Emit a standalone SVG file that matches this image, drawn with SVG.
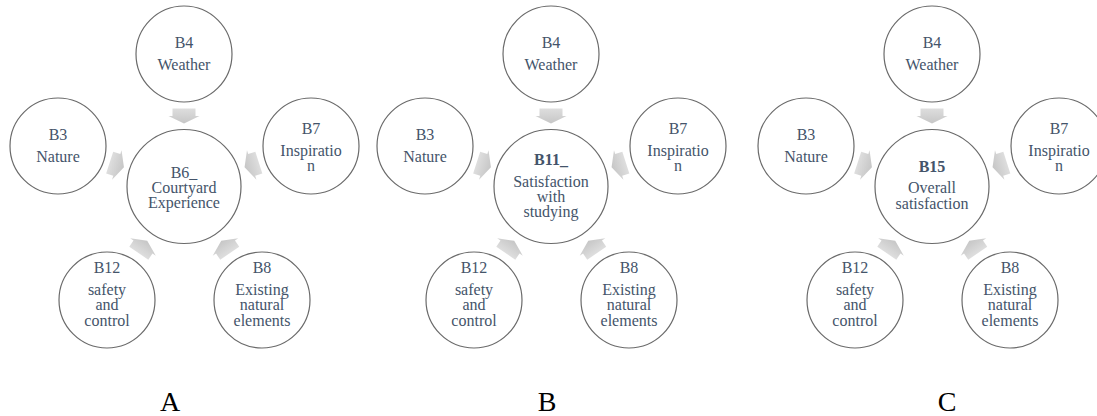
<svg xmlns="http://www.w3.org/2000/svg" width="1097" height="416" viewBox="0 0 1097 416">
<style>
.c{fill:#fff;stroke:#6a6a6a;stroke-width:1.2}
.t{font-family:'Liberation Serif','DejaVu Serif',serif;font-size:16px;fill:#44546A;text-anchor:middle}
.b{font-weight:bold}
.lbl{font-family:'Liberation Serif','DejaVu Serif',serif;font-size:28px;fill:#000;text-anchor:middle}
</style>
<defs>
<linearGradient id="g" x1="0" y1="0" x2="1" y2="0">
<stop offset="0" stop-color="#dedede"/>
<stop offset="1" stop-color="#c6c6c6"/>
</linearGradient>
<path id="arr" d="M-7.5,-11.5 L0,-11.5 L0,-15.5 L7.5,0 L0,15.5 L0,11.5 L-7.5,11.5 Z" fill="url(#g)"/>
</defs>
<g id="connectors">
<use href="#arr" transform="translate(184,116) rotate(90)"/>
<use href="#arr" transform="translate(116.8,164.9) rotate(17.8)"/>
<use href="#arr" transform="translate(251.7,164.9) rotate(162.3)"/>
<use href="#arr" transform="translate(143,247) rotate(-55.8)"/>
<use href="#arr" transform="translate(225.5,247) rotate(-124.5)"/>
<use href="#arr" transform="translate(551,116) rotate(90)"/>
<use href="#arr" transform="translate(483.8,164.9) rotate(17.8)"/>
<use href="#arr" transform="translate(618.7,164.9) rotate(162.3)"/>
<use href="#arr" transform="translate(510,247) rotate(-55.8)"/>
<use href="#arr" transform="translate(592.5,247) rotate(-124.5)"/>
<use href="#arr" transform="translate(932,116) rotate(90)"/>
<use href="#arr" transform="translate(864.8,164.9) rotate(17.8)"/>
<use href="#arr" transform="translate(999.7,164.9) rotate(162.3)"/>
<use href="#arr" transform="translate(891,247) rotate(-55.8)"/>
<use href="#arr" transform="translate(973.5,247) rotate(-124.5)"/>
</g>
<g id="A-B4"><circle class="c" cx="184" cy="54" r="48"/><text class="t" x="184" y="48">B4</text><text class="t" x="184" y="70">Weather</text></g>
<g id="A-B3"><circle class="c" cx="58" cy="146" r="48"/><text class="t" x="58" y="140">B3</text><text class="t" x="58" y="162">Nature</text></g>
<g id="A-B7"><circle class="c" cx="311" cy="146" r="48"/><text class="t" x="311" y="134">B7</text><text class="t" x="311" y="156">Inspiratio</text><text class="t" x="311" y="171">n</text></g>
<g id="A-B12"><circle class="c" cx="107" cy="300" r="48"/><text class="t" x="107" y="273">B12</text><text class="t" x="107" y="295">safety</text><text class="t" x="107" y="310">and</text><text class="t" x="107" y="326">control</text></g>
<g id="A-B8"><circle class="c" cx="262" cy="300" r="48"/><text class="t" x="262" y="273">B8</text><text class="t" x="262" y="295">Existing</text><text class="t" x="262" y="310">natural</text><text class="t" x="262" y="326">elements</text></g>
<g id="A-B6"><circle class="c" cx="184" cy="186.5" r="57"/><text class="t" x="184" y="178">B6_</text><text class="t" x="184" y="193">Courtyard</text><text class="t" x="184" y="208">Experience</text></g>
<g id="B-B4"><circle class="c" cx="551" cy="54" r="48"/><text class="t" x="551" y="48">B4</text><text class="t" x="551" y="70">Weather</text></g>
<g id="B-B3"><circle class="c" cx="425" cy="146" r="48"/><text class="t" x="425" y="140">B3</text><text class="t" x="425" y="162">Nature</text></g>
<g id="B-B7"><circle class="c" cx="678" cy="146" r="48"/><text class="t" x="678" y="134">B7</text><text class="t" x="678" y="156">Inspiratio</text><text class="t" x="678" y="171">n</text></g>
<g id="B-B12"><circle class="c" cx="474" cy="300" r="48"/><text class="t" x="474" y="273">B12</text><text class="t" x="474" y="295">safety</text><text class="t" x="474" y="310">and</text><text class="t" x="474" y="326">control</text></g>
<g id="B-B8"><circle class="c" cx="629" cy="300" r="48"/><text class="t" x="629" y="273">B8</text><text class="t" x="629" y="295">Existing</text><text class="t" x="629" y="310">natural</text><text class="t" x="629" y="326">elements</text></g>
<g id="B-B11"><circle class="c" cx="551" cy="186.5" r="57"/><text class="t b" x="551" y="165">B11_</text><text class="t" x="551" y="187">Satisfaction</text><text class="t" x="551" y="202">with</text><text class="t" x="551" y="217">studying</text></g>
<g id="C-B4"><circle class="c" cx="932" cy="54" r="48"/><text class="t" x="932" y="48">B4</text><text class="t" x="932" y="70">Weather</text></g>
<g id="C-B3"><circle class="c" cx="806" cy="146" r="48"/><text class="t" x="806" y="140">B3</text><text class="t" x="806" y="162">Nature</text></g>
<g id="C-B7"><circle class="c" cx="1059" cy="146" r="48"/><text class="t" x="1059" y="134">B7</text><text class="t" x="1059" y="156">Inspiratio</text><text class="t" x="1059" y="171">n</text></g>
<g id="C-B12"><circle class="c" cx="855" cy="300" r="48"/><text class="t" x="855" y="273">B12</text><text class="t" x="855" y="295">safety</text><text class="t" x="855" y="310">and</text><text class="t" x="855" y="326">control</text></g>
<g id="C-B8"><circle class="c" cx="1010" cy="300" r="48"/><text class="t" x="1010" y="273">B8</text><text class="t" x="1010" y="295">Existing</text><text class="t" x="1010" y="310">natural</text><text class="t" x="1010" y="326">elements</text></g>
<g id="C-B15"><circle class="c" cx="932" cy="186.5" r="57"/><text class="t b" x="932" y="172">B15</text><text class="t" x="932" y="193">Overall</text><text class="t" x="932" y="209">satisfaction</text></g>
<g id="labels">
<text class="lbl" x="170" y="411">A</text>
<text class="lbl" x="547" y="411">B</text>
<text class="lbl" x="947" y="411">C</text>
</g>
</svg>
